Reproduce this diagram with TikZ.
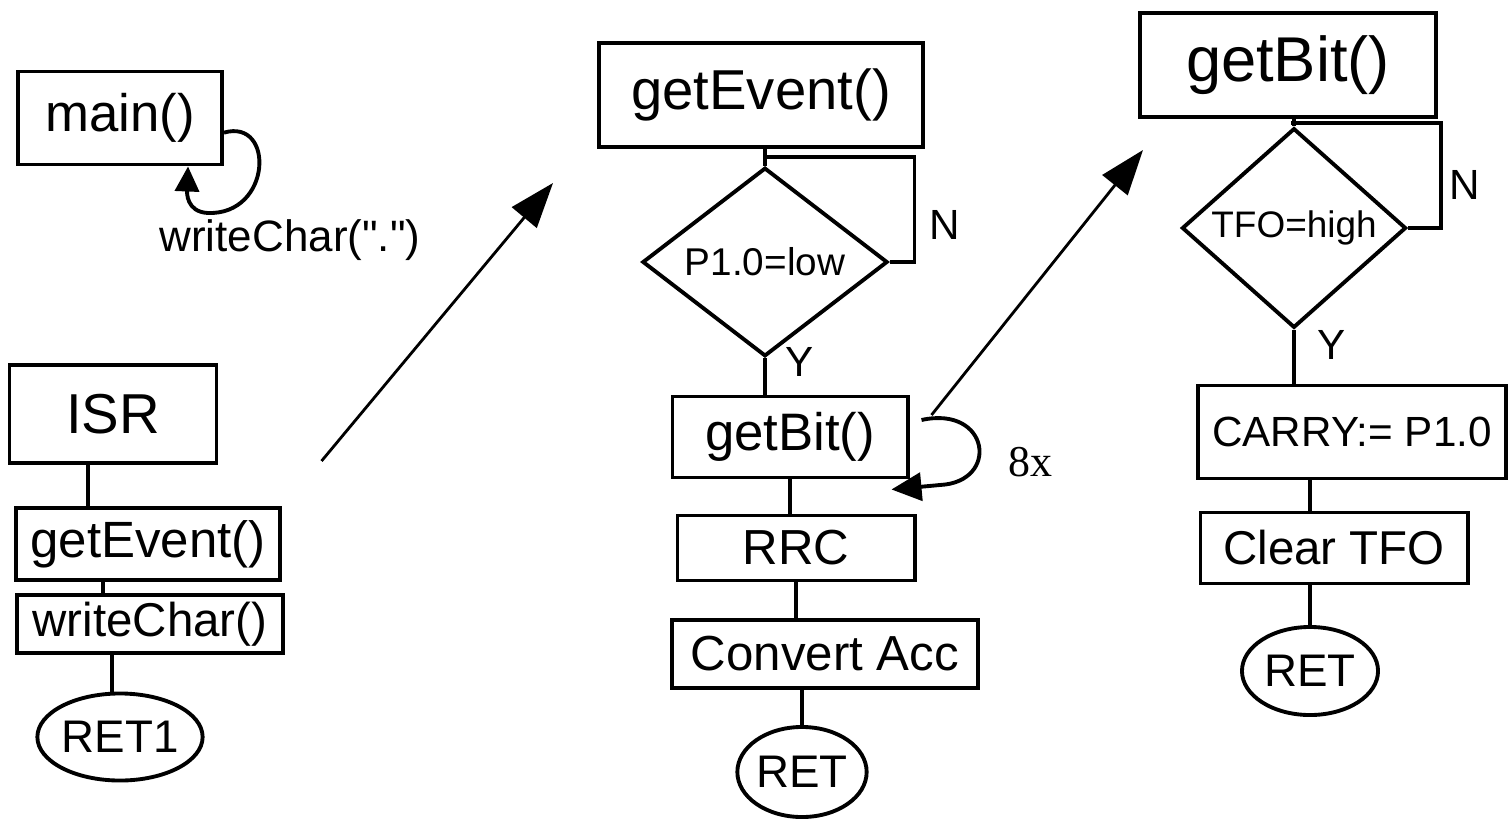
\documentclass[tikz,border=0pt]{standalone}
\usepackage{fontspec}
\setmainfont{Liberation Sans}
\newfontfamily\timesfont{Liberation Serif}
\usetikzlibrary{shapes.geometric,arrows.meta,calc}

\begin{document}
\begin{tikzpicture}[x=0.01cm, y=-0.01cm, line width=1.1pt,
  box/.style={draw, rectangle, inner sep=0pt},
  test/.style={draw, diamond, inner sep=0pt},
  stop/.style={draw, ellipse, inner sep=0pt},
  call/.style={line width=0.8pt, -{Triangle[length=0.45cm,width=0.32cm]}}]

\useasboundingbox (0,0) rectangle (1509,821);

%% main
\node[box, minimum width=2.04cm, minimum height=0.93cm, font=\fontsize{15}{18}\selectfont] (main) at (120,118) {main()};
\draw[-{Triangle[length=0.25cm,width=0.24cm]}] (main.-8) .. controls (275,118) and (272,215) .. (208,213) .. controls (186,212) and (187,192) .. ([xshift=0.68cm]main.south);
\node[font=\fontsize{12.5}{15}\selectfont] (wrt) at (290,240) {writeChar(\textquotedbl.\textquotedbl)};

%% ISR
\node[box, minimum width=2.07cm, minimum height=0.98cm, font=\fontsize{16}{19}\selectfont] (isr) at (113,414) {ISR};
\node[box, minimum width=2.63cm, minimum height=0.72cm, font=\fontsize{14.5}{17}\selectfont] (ge1) at (148,544) {getEvent()};
\node[box, minimum width=2.66cm, minimum height=0.58cm, font=\fontsize{13.5}{16}\selectfont] (wc) at (150,624) {writeChar()};
\node[stop, minimum width=1.34cm, minimum height=0.87cm, font=\fontsize{13}{16}\selectfont] (ret1) at (120,737) {RET1};
%
\draw ([xshift=-0.25cm]isr.south) -- ([xshift=-0.25cm]isr.south |- ge1.north);
\draw ([xshift=-0.45cm]ge1.south) -- ([xshift=-0.45cm]ge1.south |- wc.north);
\draw (ret1.100) -- (ret1.100 |- wc.south);

%% getEvent
\node[box, minimum width=3.23cm, minimum height=1.04cm, font=\fontsize{16}{19}\selectfont] (ge2) at (761,95) {getEvent()};
\node[test, minimum width=2.45cm, minimum height=1.45cm, font=\fontsize{11}{13}\selectfont] (dec1) at (765,262) {P1.0=low};
\node[box, minimum width=2.35cm, minimum height=0.81cm, font=\fontsize{15}{18}\selectfont] (gb2) at (790,437) {getBit()};
\node[box, minimum width=2.37cm, minimum height=0.65cm, font=\fontsize{14}{17}\selectfont] (rrc) at (796,548) {RRC};
\node[box, minimum width=3.05cm, minimum height=0.68cm, font=\fontsize{14}{17}\selectfont] (conv) at (825,654) {Convert Acc};
\node[stop, minimum width=1.25cm, minimum height=0.9cm, font=\fontsize{13}{16}\selectfont] (ret2) at (802,772) {RET};
\node[font=\fontsize{12}{14}\selectfont] (n1) at (945,225) {N};
\node[font=\fontsize{12}{14}\selectfont] (y1) at (800,362) {Y};
\node[font=\timesfont\fontsize{12.5}{15}\selectfont] (rep) at (1030,462) {8x};
%
\draw (dec1.north) -- (dec1.north |- ge2.south);
\draw (dec1.east) -- ++(0.25cm,0) |- ($(ge2.south)!0.5!(dec1.north)$);
\draw (dec1.south) -- (dec1.south |- gb2.north);
\draw (gb2.south) -- (gb2.south |- rrc.north);
\draw (rrc.south) -- (rrc.south |- conv.north);
\draw (ret2.north |- conv.south) -- (ret2.north);
\draw[-{Triangle[length=0.3cm,width=0.28cm]}] ([shift={(0.12cm,0.17cm)}]gb2.east) .. controls (990,405) and (1000,482) .. (940,485) -- ([shift={(-0.18cm,-0.1cm)}]gb2.south east);

%% getBit
\node[box, minimum width=2.95cm, minimum height=1.04cm, font=\fontsize{18}{22}\selectfont] (gb3) at (1288,65) {getBit()};
\node[test, minimum width=2.24cm, minimum height=1.35cm, font=\fontsize{10.5}{13}\selectfont] (dec2) at (1294,228) {TFO=high};
\node[box, minimum width=3.07cm, minimum height=0.93cm, font=\fontsize{12}{14}\selectfont] (carry) at (1352,432) {CARRY:= P1.0};
\node[box, minimum width=2.67cm, minimum height=0.71cm, font=\fontsize{13.5}{16}\selectfont] (clear) at (1334,548) {Clear TFO};
\node[stop, minimum width=1.36cm, minimum height=0.88cm, font=\fontsize{13}{16}\selectfont] (ret3) at (1310,671) {RET};
\node[font=\fontsize{12}{14}\selectfont] (n2) at (1465,185) {N};
\node[font=\fontsize{12}{14}\selectfont] (y2) at (1332,345) {Y};
%
\draw (dec2.north) -- (dec2.north |- gb3.south);
\draw (dec2.east) -- ++(0.33cm,0) |- ($(gb3.south)!0.5!(dec2.north)$);
\draw (dec2.south) -- (dec2.south |- carry.north);
\draw (ret3.north |- carry.south) -- (ret3.north |- clear.north);
\draw (ret3.north |- clear.south) -- (ret3.north);

%% calls
\coordinate (def1) at (553,183);
\coordinate (def2) at (1143,150);
\draw[call] ([shift={(0.4cm,0.45cm)}]ge1.north east) -- (def1);
\draw[call] ([shift={(0.22cm,0.22cm)}]gb2.east) -- (def2);

\end{tikzpicture}
\end{document}
